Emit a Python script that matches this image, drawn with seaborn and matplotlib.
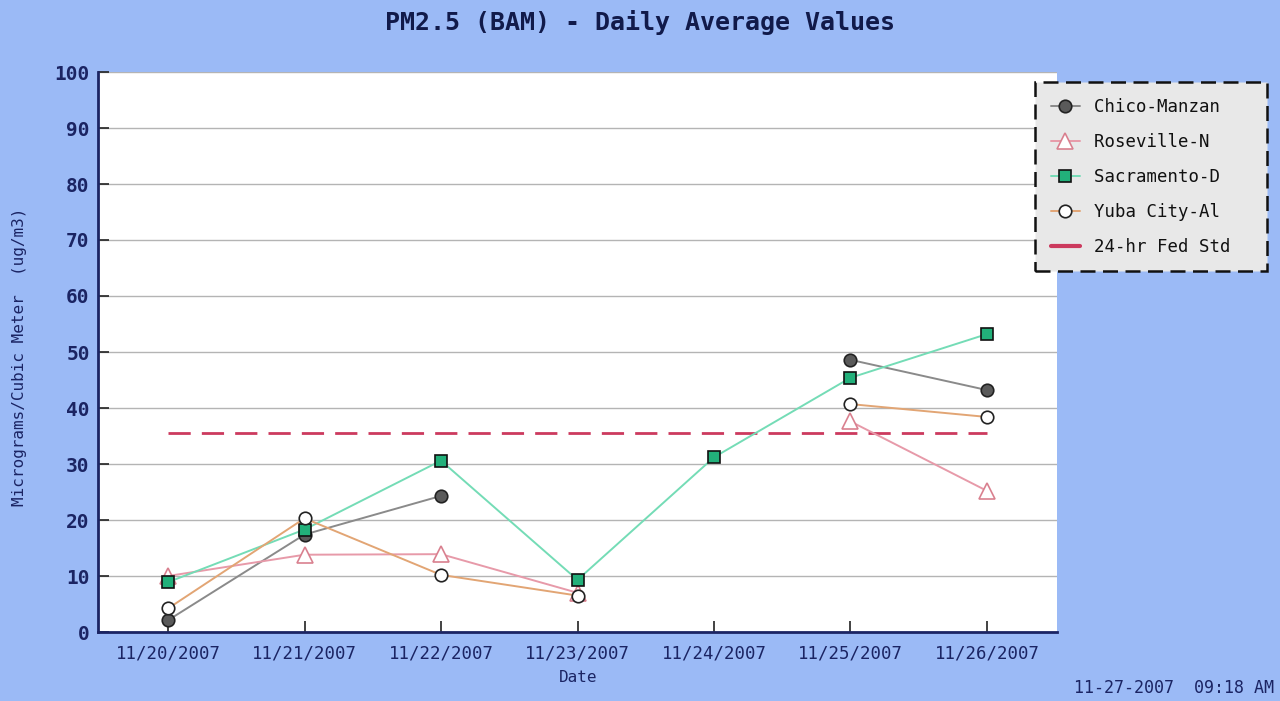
import numpy as np
import pandas as pd
import seaborn as sns
import matplotlib.pyplot as plt
from matplotlib.lines import Line2D

dates = ['11/20/2007', '11/21/2007', '11/22/2007', '11/23/2007',
         '11/24/2007', '11/25/2007', '11/26/2007']
chico = [2.1, 17.4, 24.3, np.nan, np.nan, 48.6, 43.2]
roseville = [10.0, 13.8, 13.9, 7.0, np.nan, 37.6, 25.2]
sacramento = [8.9, 18.3, 30.6, 9.3, 31.2, 45.4, 53.2]
yuba = [4.2, 20.3, 10.2, 6.5, np.nan, 40.7, 38.4]
fed_std = [35.5, 35.5, 35.5, 35.5, 35.5, 35.5, 35.5]

series = {
    'Chico-Manzan': chico,
    'Roseville-N': roseville,
    'Sacramento-D': sacramento,
    'Yuba City-Al': yuba,
}
styles = {
    'Chico-Manzan': dict(color='#8a8a8a', marker='o', markerfacecolor='#5a5a5a',
                         markeredgecolor='#222222', markersize=9),
    'Roseville-N': dict(color='#e79aa9', marker='^', markerfacecolor='white',
                        markeredgecolor='#d9808f', markersize=12),
    'Sacramento-D': dict(color='#74dcb6', marker='s', markerfacecolor='#22b07a',
                         markeredgecolor='#111111', markersize=9),
    'Yuba City-Al': dict(color='#e2a574', marker='o', markerfacecolor='white',
                         markeredgecolor='#222222', markersize=9),
}

# long table, split each site into runs so gaps break the line
rows = []
for name, vals in series.items():
    seg = 0
    for i, v in enumerate(vals):
        if np.isnan(v):
            seg += 1
            continue
        rows.append({'site': name, 'x': i, 'value': v, 'seg': seg})
df = pd.DataFrame(rows)

sns.set_style('white')
plt.rcParams['font.family'] = ['DejaVu Sans Mono', 'DejaVu Sans']

bg = '#9bbaf6'
navy = '#1b2463'
fig = plt.figure(figsize=(12.8, 7.01), dpi=100, facecolor=bg)
ax = fig.add_axes([98 / 1280, 69 / 701, 959 / 1280, 560 / 701])
ax.set_facecolor('white')

ax.set_ylim(0, 100)
ax.set_xlim(-0.513, 6.513)
ax.set_yticks(range(0, 101, 10))
ax.yaxis.grid(True, color='#b4b4b4', linewidth=1)
ax.set_axisbelow(True)

sns.lineplot(x=list(range(len(dates))), y=fed_std, ax=ax, color='#cc3a5e',
             linewidth=2, dashes=False, linestyle=(0, (8, 4)))

for name in series:
    sub = df[df['site'] == name]
    st = styles[name]
    sns.lineplot(data=sub, x='x', y='value', units='seg', estimator=None,
                 ax=ax, linewidth=1.4, markeredgewidth=1.2, **st)

ax.set_xticks(range(len(dates)))
ax.set_xticklabels(dates)
ax.set_xlabel('')
ax.set_ylabel('')

for s in ['top', 'right']:
    ax.spines[s].set_visible(False)
for s in ['left', 'bottom']:
    ax.spines[s].set_color(navy)
    ax.spines[s].set_linewidth(2)

ax.tick_params(axis='y', direction='in', length=8, width=1.2, color='#222222',
               pad=6, labelsize=14, labelcolor=navy, left=True)
ax.tick_params(axis='x', direction='in', length=8, width=1.2, color='#222222',
               pad=9, labelsize=12.5, labelcolor=navy, bottom=True)
for lab in ax.get_yticklabels():
    lab.set_fontweight('bold')

fig.text(0.5, 0.968, 'PM2.5 (BAM) - Daily Average Values', ha='center',
         va='center', fontsize=18, fontweight='bold', color='#111a4a')
fig.text(578 / 1280, 1 - 678 / 701, 'Date', ha='center', va='center',
         fontsize=11.5, color=navy)
fig.text(20 / 1280, 1 - 357 / 701, 'Micrograms/Cubic Meter  (ug/m3)', rotation=90,
         ha='center', va='center', fontsize=11.5, color=navy)
fig.text(1274 / 1280, 1 - 688 / 701, '11-27-2007  09:18 AM', ha='right',
         va='center', fontsize=12, color=navy)

handles = [Line2D([], [], linewidth=1.4, markeredgewidth=1.2, **styles[n])
           for n in series]
handles.append(Line2D([], [], color='#cc3a5e', linewidth=3))
labels = [n.ljust(15) for n in list(series) + ['24-hr Fed Std']]
leg = fig.legend(handles, labels, loc='upper left',
                 bbox_to_anchor=(1035 / 1280, 1 - 82 / 701), frameon=True,
                 fancybox=False, facecolor='#e8e8e8', edgecolor='#111111',
                 fontsize=12.5, handlelength=1.7, labelspacing=0.98,
                 borderpad=0.9, handletextpad=0.8, borderaxespad=0)
leg.get_frame().set_linestyle((0, (6, 3)))
leg.get_frame().set_linewidth(1.8)
leg.get_frame().set_alpha(1)
for t in leg.get_texts():
    t.set_color('#111111')

fig.savefig('out.png', dpi=100, facecolor=bg)
